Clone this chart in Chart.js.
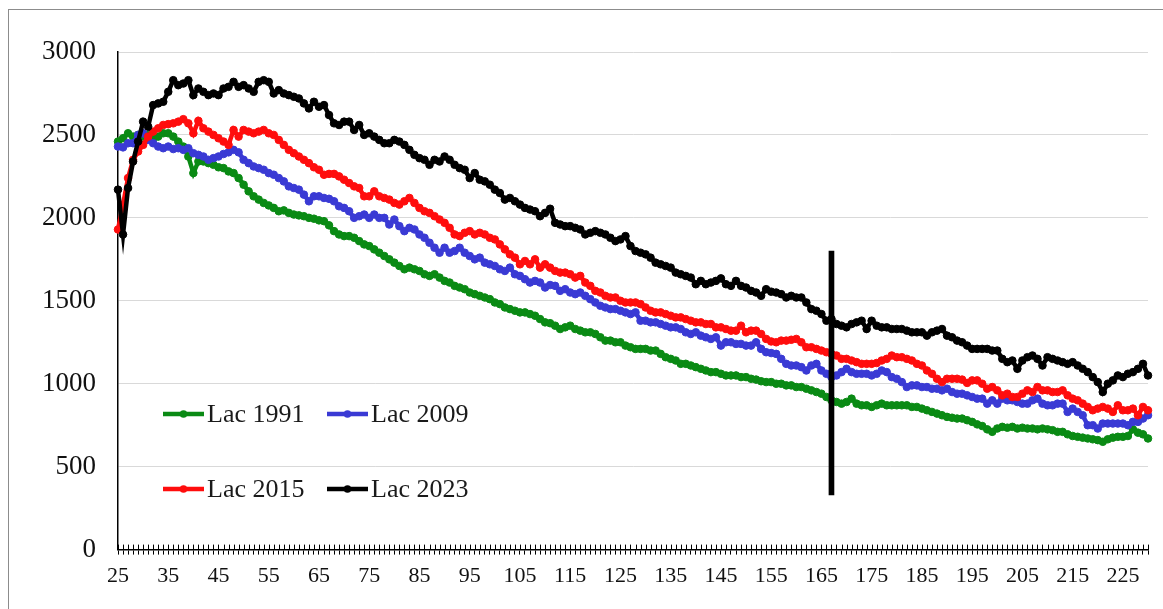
<!DOCTYPE html>
<html><head><meta charset="utf-8">
<script src="https://cdn.jsdelivr.net/npm/chart.js@4"></script>
<style>
html,body{margin:0;padding:0;background:#fff;}
#wrap{position:relative;width:1163px;height:609px;overflow:hidden;background:#fff;}
#frame{position:absolute;left:8px;top:9px;width:1200px;height:700px;border:1.5px solid #8c8c8c;box-sizing:border-box;}
canvas{position:absolute;left:0;top:0;}
</style></head><body>
<div id="wrap"><div id="frame"></div><canvas id="c" width="1163" height="609"></canvas></div>
<script>
// Categories 25..230
const categories = [];
for (let c = 25; c <= 230; c++) categories.push(String(c));
const tickLabels = ['25','35','45','55','65','75','85','95','105','115','125','135','145','155','165','175','185','195','205','215','225'];

const lac1991 = [
2460,2480,2510,2490,2500,2490,2500,2480,2490,2510,
2510,2490,2460,2430,2370,2270,2340,2340,2330,2320,
2305,2300,2280,2270,2240,2200,2160,2130,2110,2090,
2075,2060,2040,2045,2030,2020,2015,2010,2000,1995,
1985,1980,1955,1920,1900,1890,1890,1880,1860,1840,
1830,1810,1790,1770,1750,1730,1710,1690,1700,1690,
1680,1660,1650,1660,1640,1620,1610,1590,1580,1570,
1550,1540,1530,1520,1510,1490,1480,1460,1450,1440,
1430,1430,1420,1410,1390,1370,1365,1350,1330,1340,
1350,1330,1320,1310,1310,1300,1280,1260,1260,1250,
1250,1230,1220,1210,1210,1210,1200,1200,1180,1160,
1150,1140,1120,1120,1110,1100,1090,1080,1070,1070,
1060,1050,1050,1050,1040,1040,1030,1025,1015,1010,
1010,1000,1000,990,990,980,980,970,960,950,
940,920,900,890,880,890,910,880,870,870,
860,870,880,870,870,870,870,870,860,860,
850,840,830,820,810,800,795,790,790,780,
770,755,745,725,710,730,740,735,740,730,
735,730,730,725,730,725,720,710,710,695,
685,680,675,670,665,660,650,665,675,680,
680,685,725,705,695,670];

const lac2009 = [
2430,2425,2450,2450,2500,2510,2470,2450,2430,2420,
2430,2415,2420,2410,2420,2390,2380,2370,2350,2360,
2370,2385,2395,2410,2395,2350,2330,2310,2300,2290,
2270,2260,2240,2220,2190,2180,2170,2140,2100,2130,
2130,2120,2115,2100,2070,2060,2040,2000,2010,2020,
2000,2020,2000,2000,1960,1990,1950,1920,1940,1930,
1900,1880,1850,1820,1790,1820,1790,1800,1820,1790,
1770,1750,1760,1730,1720,1710,1690,1680,1700,1660,
1650,1630,1610,1620,1610,1580,1595,1590,1560,1570,
1550,1540,1550,1530,1510,1490,1470,1460,1450,1450,
1440,1430,1420,1430,1380,1380,1370,1370,1360,1350,
1340,1340,1330,1310,1300,1310,1290,1280,1270,1280,
1230,1250,1250,1240,1240,1230,1230,1250,1210,1190,
1185,1180,1150,1120,1110,1110,1100,1080,1110,1120,
1080,1060,1040,1050,1070,1090,1070,1060,1060,1060,
1050,1060,1080,1070,1040,1030,1010,980,990,990,
980,980,970,970,960,970,950,940,940,930,
920,910,910,880,900,880,910,900,900,890,
880,880,900,910,880,870,870,880,880,830,
850,830,810,750,750,730,760,760,760,760,
760,750,770,770,790,810];

const lac2015 = [
1930,2080,2240,2350,2400,2440,2490,2520,2540,2560,
2565,2570,2580,2595,2570,2510,2585,2540,2520,2500,
2480,2460,2440,2530,2490,2530,2520,2510,2520,2530,
2510,2500,2470,2440,2410,2390,2370,2350,2330,2305,
2290,2260,2265,2265,2250,2230,2210,2190,2180,2130,
2130,2160,2130,2120,2110,2090,2080,2100,2120,2090,
2060,2040,2030,2010,1990,1970,1940,1900,1890,1910,
1920,1900,1910,1900,1880,1870,1840,1810,1780,1760,
1720,1740,1720,1750,1700,1720,1700,1680,1670,1670,
1660,1640,1650,1610,1590,1560,1550,1530,1520,1520,
1500,1490,1490,1490,1480,1460,1440,1430,1430,1420,
1410,1400,1400,1390,1380,1370,1370,1360,1360,1340,
1340,1330,1320,1320,1350,1310,1320,1320,1300,1270,
1255,1250,1260,1260,1265,1270,1250,1220,1220,1210,
1200,1190,1180,1170,1150,1150,1140,1130,1120,1120,
1120,1125,1140,1150,1170,1160,1160,1150,1140,1120,
1110,1080,1060,1030,1010,1030,1030,1030,1025,1005,
1020,1020,1000,970,980,960,930,940,920,920,
940,960,950,980,960,960,950,950,960,930,
910,900,880,860,840,850,860,850,830,870,
840,840,850,810,860,840];

const lac2023 = [
2170,1900,2180,2340,2460,2580,2550,2680,2690,2700,
2760,2830,2800,2810,2830,2740,2780,2760,2740,2750,
2740,2780,2790,2820,2790,2800,2780,2760,2820,2830,
2820,2750,2770,2750,2740,2730,2720,2690,2660,2700,
2670,2680,2620,2570,2560,2580,2580,2530,2560,2500,
2510,2490,2470,2450,2450,2470,2460,2440,2410,2380,
2360,2350,2320,2350,2340,2370,2350,2320,2300,2290,
2240,2270,2230,2220,2200,2170,2150,2110,2120,2100,
2080,2060,2050,2040,2010,2030,2055,1970,1960,1950,
1950,1940,1930,1900,1910,1920,1910,1900,1880,1860,
1870,1890,1830,1800,1790,1780,1760,1730,1720,1710,
1700,1670,1660,1650,1640,1600,1620,1600,1610,1620,
1635,1600,1590,1620,1590,1580,1560,1550,1530,1570,
1555,1550,1540,1520,1530,1520,1520,1490,1450,1440,
1420,1380,1390,1360,1350,1340,1360,1370,1380,1330,
1380,1350,1340,1340,1330,1330,1330,1320,1310,1310,
1310,1290,1310,1320,1330,1290,1280,1260,1250,1230,
1210,1210,1210,1210,1200,1200,1150,1130,1140,1090,
1140,1160,1170,1150,1110,1160,1150,1140,1130,1120,
1130,1110,1090,1070,1040,1010,950,1000,1020,1050,
1040,1060,1070,1090,1120,1050];

const seriesNames = ['Lac 1991','Lac 2009','Lac 2015','Lac 2023'];
const seriesColors = ['#0a8a14','#3a3ad4','#ff0d0d','#000000'];
const seriesValues = [lac1991, lac2009, lac2015, lac2023];

// vertical marker (floating bar) at one category
const markerCategory = '167';
const markerRange = [330, 1800];

const legendPlugin = {
  id: 'innerLegend',
  afterDraw(chart) {
    const {ctx, chartArea: a} = chart;
    const items = chart.data.datasets.filter(d => d.type === 'line');
    ctx.save();
    ctx.font = '26px "Liberation Serif"';
    ctx.textBaseline = 'middle';
    ctx.textAlign = 'left';
    items.forEach((d, i) => {
      const row = Math.floor(i / 2), col = i % 2;
      const x0 = a.left + 45 + col * 164;
      const y = a.top + 362 + row * 75;
      ctx.strokeStyle = d.borderColor;
      ctx.lineWidth = 4.5;
      ctx.beginPath(); ctx.moveTo(x0, y); ctx.lineTo(x0 + 41, y); ctx.stroke();
      ctx.fillStyle = d.borderColor;
      ctx.beginPath(); ctx.arc(x0 + 20.5, y, 3.8, 0, Math.PI * 2); ctx.fill();
      ctx.fillStyle = '#1a1a1a';
      ctx.fillText(d.label, x0 + 44, y + 1);
    });
    ctx.restore();
  }
};

const tickPlugin = {
  id: 'crossTicks',
  afterDraw(chart) {
    const xs = chart.scales.x, a = chart.chartArea, ctx = chart.ctx;
    ctx.save();
    ctx.strokeStyle = '#000';
    ctx.lineWidth = 1;
    ctx.beginPath();
    for (let i = 0; i < xs.ticks.length; i++) {
      const px = Math.round(xs.getPixelForTick(i)) + 0.5;
      ctx.moveTo(px, a.bottom - 5);
      ctx.lineTo(px, a.bottom);
    }
    ctx.stroke();
    ctx.restore();
  }
};

const datasets = seriesValues.map((vals, i) => ({
  type: 'line',
  label: seriesNames[i],
  data: vals,
  borderColor: seriesColors[i],
  backgroundColor: seriesColors[i],
  pointBackgroundColor: seriesColors[i],
  pointBorderColor: seriesColors[i],
  borderWidth: 4.5,
  pointRadius: 3.8,
  pointBorderWidth: 1,
  tension: 0,
  fill: false,
  order: 4 - i + 1
}));
datasets.push({
  type: 'bar',
  label: 'marker',
  data: categories.map(c => c === markerCategory ? markerRange : null),
  backgroundColor: '#000',
  borderWidth: 0,
  barThickness: 5,
  order: 0
});

new Chart(document.getElementById('c'), {
  type: 'line',
  data: { labels: categories, datasets },
  options: {
    responsive: false,
    animation: false,
    devicePixelRatio: 1,
    layout: { padding: { left: 40, top: 52, right: 15, bottom: 12 } },
    plugins: { legend: { display: false }, tooltip: { enabled: false } },
    scales: {
      x: {
        type: 'category',
        offset: false,
        grid: { display: true, drawOnChartArea: false, drawTicks: true, tickLength: 5, color: '#000', lineWidth: 1, offset: false },
        border: { display: true, color: '#000', width: 1.5 },
        ticks: {
          autoSkip: false, maxRotation: 0, minRotation: 0, padding: 8, color: '#111',
          font: { family: 'Liberation Serif', size: 22 },
          callback: (v, i) => tickLabels.includes(categories[i]) ? categories[i] : ''
        }
      },
      y: {
        min: 0, max: 3000,
        afterFit: (scale) => { scale.width = 78; },
        ticks: { stepSize: 500, padding: 22, color: '#111', font: { family: 'Liberation Serif', size: 27 },
          callback: (v) => String(v) },
        grid: { color: '#d9d9d9', lineWidth: 1, drawTicks: false },
        border: { display: true, color: '#000', width: 1.5 }
      }
    }
  },
  plugins: [legendPlugin, tickPlugin]
});
</script>
</body></html>
